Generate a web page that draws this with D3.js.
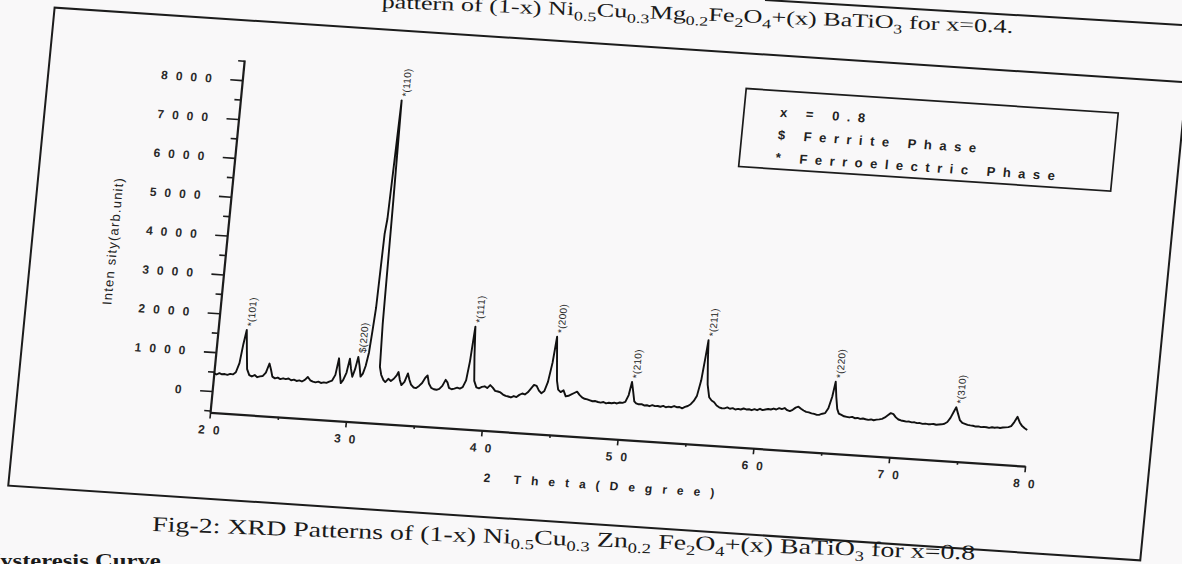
<!DOCTYPE html>
<html>
<head>
<meta charset="utf-8">
<script src="https://cdn.jsdelivr.net/npm/d3@7"></script>
<style>
  body { margin: 0; background: #f9f8f9; }
  svg { display: block; }
</style>
</head>
<body>
<svg width="1182" height="564"></svg>
<script>
// XRD pattern
var twoTheta = [
  20.0, 20.2, 20.4, 20.6, 20.8, 21.0, 21.2, 21.4, 21.6, 21.8, 21.95, 22.1, 22.25, 22.4, 22.6, 22.8,
  23.0, 23.2, 23.4, 23.6, 23.8, 24.0, 24.15, 24.3, 24.5, 24.7, 24.9, 25.1, 25.3, 25.5, 25.7, 25.9,
  26.1, 26.3, 26.5, 26.7, 26.9, 27.1, 27.3, 27.5, 27.7, 27.9, 28.1, 28.3, 28.5, 28.7, 28.9, 29.05,
  29.2, 29.35, 29.5, 29.7, 29.85, 30.0, 30.15, 30.3, 30.45, 30.6, 30.75, 30.9, 31.05, 31.2, 31.3,
  31.4, 31.5, 31.6, 31.7, 31.8, 31.9, 32.0, 32.1, 32.25, 32.45, 32.6, 32.8, 33.0, 33.2, 33.4, 33.5,
  33.65, 33.8, 34.0, 34.2, 34.35, 34.5, 34.7, 34.9, 35.1, 35.3, 35.5, 35.65, 35.8, 36.0, 36.2, 36.4,
  36.6, 36.8, 37.0, 37.15, 37.3, 37.5, 37.7, 37.9, 38.1, 38.3, 38.5, 38.65, 38.8, 38.95, 39.1, 39.3,
  39.5, 39.7, 39.9, 40.1, 40.3, 40.5, 40.7, 40.9, 41.1, 41.3, 41.5, 41.7, 41.9, 42.1, 42.3, 42.5,
  42.7, 42.9, 43.1, 43.3, 43.5, 43.7, 43.9, 44.1, 44.3, 44.5, 44.7, 44.85, 45.0, 45.15, 45.3, 45.5,
  45.7, 45.9, 46.1, 46.3, 46.5, 46.7, 46.9, 47.1, 47.3, 47.5, 47.7, 47.9, 48.1, 48.3, 48.5, 48.7,
  48.9, 49.1, 49.3, 49.5, 49.7, 49.9, 50.1, 50.3, 50.5, 50.65, 50.8, 50.95, 51.1, 51.3, 51.5, 51.7,
  51.9, 52.1, 52.3, 52.5, 52.7, 52.9, 53.1, 53.3, 53.5, 53.7, 53.9, 54.1, 54.3, 54.5, 54.7, 54.9,
  55.1, 55.3, 55.5, 55.7, 55.85, 55.95, 56.05, 56.2, 56.4, 56.6, 56.8, 57.0, 57.2, 57.4, 57.6, 57.8,
  58.0, 58.2, 58.4, 58.6, 58.8, 59.0, 59.2, 59.4, 59.6, 59.8, 60.0, 60.2, 60.4, 60.6, 60.8, 61.0,
  61.2, 61.4, 61.6, 61.8, 62.0, 62.2, 62.4, 62.6, 62.8, 63.0, 63.2, 63.4, 63.6, 63.8, 64.0, 64.2,
  64.4, 64.6, 64.8, 65.0, 65.2, 65.4, 65.55, 65.7, 65.85, 66.0, 66.2, 66.4, 66.6, 66.8, 67.0, 67.2,
  67.4, 67.6, 67.8, 68.0, 68.2, 68.4, 68.6, 68.8, 69.0, 69.2, 69.4, 69.6, 69.8, 70.0, 70.2, 70.4,
  70.6, 70.8, 71.0, 71.2, 71.4, 71.6, 71.8, 72.0, 72.2, 72.4, 72.6, 72.8, 73.0, 73.2, 73.4, 73.6,
  73.8, 74.0, 74.2, 74.4, 74.55, 74.7, 74.9, 75.1, 75.3, 75.5, 75.7, 75.9, 76.1, 76.3, 76.5, 76.7,
  76.9, 77.1, 77.3, 77.5, 77.7, 77.9, 78.1, 78.3, 78.5, 78.7, 78.9, 79.1, 79.3, 79.5, 79.7, 79.9
];
var intensity = [
  460, 430, 470, 445, 455, 440, 470, 460, 520, 760, 1250, 1620, 1100, 620, 470, 440,
  480, 430, 455, 470, 560, 800, 650, 470, 430, 455, 420, 445, 430, 450, 410, 430,
  400, 420, 395, 440, 520, 440, 410, 395, 420, 390, 410, 400, 440, 470, 620, 1050,
  700, 420, 500, 700, 1060, 800, 600, 800, 1120, 900, 620, 700, 900, 1250, 1800,
  2400, 4300, 4700, 6200, 7750, 5200, 2000, 900, 700, 570, 520, 610, 560, 620, 720, 800,
  600, 470, 560, 780, 620, 500, 430, 420, 480, 560, 700, 760, 560, 450, 420, 410,
  440, 520, 680, 620, 480, 450, 470, 500, 480, 520, 700, 1200, 2090, 1300, 700, 540,
  520, 560, 580, 540, 620, 560, 480, 470, 450, 400, 370, 360, 340, 380, 360, 420,
  460, 440, 500, 600, 700, 680, 560, 500, 560, 800, 1300, 1970, 1400, 850, 620, 560,
  610, 460, 480, 520, 560, 600, 520, 460, 430, 420, 400, 380, 390, 370, 360, 380,
  350, 370, 360, 380, 365, 395, 390, 420, 600, 940, 700, 450, 400, 380, 390, 360,
  370, 350, 380, 360, 370, 355, 380, 350, 370, 360, 395, 370, 380, 350, 390, 420,
  470, 560, 700, 1100, 1700, 2140, 1600, 1000, 680, 600, 560, 480, 440, 420, 420, 450,
  420, 440, 410, 430, 420, 450, 430, 440, 420, 450, 430, 470, 440, 460, 480, 470,
  500, 480, 520, 500, 530, 480, 460, 500, 560, 590, 540, 500, 470, 460, 440, 430,
  410, 420, 450, 470, 600, 900, 1290, 900, 600, 480, 450, 420, 410, 400, 420, 390,
  400, 380, 395, 380, 370, 385, 370, 390, 400, 420, 460, 520, 580, 560, 480, 430,
  410, 400, 390, 395, 380, 385, 370, 375, 360, 370, 360, 365, 375, 360, 370, 380,
  400, 450, 560, 720, 840, 700, 520, 450, 430, 410, 400, 395, 380, 390, 375, 385,
  380, 370, 390, 380, 395, 385, 400, 410, 420, 450, 560, 700, 560, 470, 420, 380
];
var peakAngles = [22.1, 30.45, 31.8, 38.8, 44.85, 50.65, 55.95, 65.55, 74.55];
var peakLabels = ["*(101)", "$(220)", "*(110)", "*(111)", "*(200)", "*(210)", "*(211)", "*(220)", "*(310)"];
var yMajor = [0, 1000, 2000, 3000, 4000, 5000, 6000, 7000, 8000];
var yMinor = [-500, 500, 1500, 2500, 3500, 4500, 5500, 6500, 7500, 8500];
var xMajor = [20, 30, 40, 50, 60, 70, 80];
var xMinor = [25, 35, 45, 55, 65, 75];
var legendLines = ["x = 0.8", "$ Ferrite Phase", "* Ferroelectric Phase"];

var ink = "#1c1c1c";
var svg = d3.select("svg");
svg.append("rect").attr("width", 1182).attr("height", 564).attr("fill", "#f9f8f9");

// the scanned page is skewed, so the whole figure sits in a sheared frame
var page = svg.append("g").attr("transform", "matrix(1,0.066,-0.097,1,0,0)");

page.append("rect")
  .attr("x", 55).attr("y", 4).attr("width", 1132).attr("height", 478)
  .attr("fill", "none").attr("stroke", ink).attr("stroke-width", 2);

var width = 815, height = 352.5;
var g = page.append("g").attr("transform", "translate(248.5,43.5)");

var x = d3.scaleLinear().domain([20, 80]).range([0, width]);
var y = d3.scaleLinear().domain([-550, 8520]).range([height, 0]);

// y axis
var axisY = g.append("g")
  .call(d3.axisLeft(y).tickValues(yMajor).tickSize(12).tickSizeOuter(0).tickFormat(d3.format("d")));
g.append("g")
  .call(d3.axisLeft(y).tickValues(yMinor).tickSize(6).tickFormat(""))
  .select(".domain").remove();

// x axis
var axisX = g.append("g").attr("transform", "translate(0," + height + ")")
  .call(d3.axisBottom(x).tickValues(xMajor).tickSize(6).tickSizeOuter(0));
g.append("g").attr("transform", "translate(0," + height + ")")
  .call(d3.axisBottom(x).tickValues(xMinor).tickSize(3).tickFormat(""))
  .select(".domain").remove();

g.selectAll(".domain").attr("stroke", ink).attr("stroke-width", 2.2);
g.selectAll(".tick line").attr("stroke", ink).attr("stroke-width", 1.6);

axisY.selectAll("text")
  .attr("x", -22.5)
  .attr("fill", "#2a2a2a")
  .attr("font-family", "Liberation Sans, Arial, sans-serif")
  .attr("font-size", 12)
  .attr("font-weight", "bold")
  .attr("letter-spacing", 8);

axisX.selectAll("text")
  .attr("y", 13)
  .attr("dx", 4)
  .attr("fill", "#2a2a2a")
  .attr("font-family", "Liberation Sans, Arial, sans-serif")
  .attr("font-size", 12)
  .attr("font-weight", "bold")
  .attr("letter-spacing", 8);

// pattern
var line = d3.line()
  .x(function (i) { return x(twoTheta[i]); })
  .y(function (i) { return y(intensity[i]); });

g.append("path")
  .datum(d3.range(twoTheta.length))
  .attr("d", line)
  .attr("fill", "none")
  .attr("stroke", "#111")
  .attr("stroke-width", 1.9)
  .attr("stroke-linejoin", "round");

// peak labels
peakAngles.forEach(function (a, k) {
  var idx = d3.leastIndex(twoTheta, function (t) { return Math.abs(t - a); });
  g.append("text")
    .attr("transform", "translate(" + (x(a) + 7) + "," + (y(intensity[idx]) - 4) + ") rotate(-90)")
    .attr("font-family", "Liberation Sans Narrow, Liberation Sans, Arial, sans-serif")
    .attr("font-size", 10)
    .attr("fill", "#2a2a2a")
    .attr("letter-spacing", 0.3)
    .text(peakLabels[k]);
});

// axis titles
page.append("text")
  .attr("transform", "translate(140,232) rotate(-90)")
  .attr("text-anchor", "middle")
  .attr("font-family", "Liberation Sans Narrow, Liberation Sans, Arial, sans-serif")
  .attr("font-size", 13)
  .attr("letter-spacing", 1.2)
  .attr("fill", "#222")
  .text("Inten sity(arb.unit)");

page.append("text")
  .attr("x", 642).attr("y", 447)
  .attr("dx", 5)
  .attr("text-anchor", "middle")
  .attr("font-family", "Liberation Sans, Arial, sans-serif")
  .attr("font-size", 12)
  .attr("font-weight", "bold")
  .attr("letter-spacing", 10)
  .attr("fill", "#222")
  .text("2 Theta(Degree)");

// legend
page.append("rect")
  .attr("x", 750).attr("y", 39).attr("width", 372).attr("height", 78)
  .attr("fill", "none").attr("stroke", ink).attr("stroke-width", 1.7);

page.selectAll(".legend-line")
  .data(legendLines)
  .enter().append("text")
  .attr("class", "legend-line")
  .attr("x", 786)
  .attr("y", function (d, i) { return 65 + i * 22.5; })
  .attr("font-family", "Liberation Sans, Arial, sans-serif")
  .attr("font-size", 13)
  .attr("font-weight", "bold")
  .attr("letter-spacing", 7.5)
  .attr("fill", "#222")
  .text(function (d) { return d; });

// page text around the figure
function formula(sel, parts, sub) {
  parts.forEach(function (p) {
    var t = sel.append("tspan").text(p[0]);
    if (p[1]) t.attr("font-size", sub).attr("dy", 5);
    if (p[2]) t.attr("dy", -5);
  });
}

var title = svg.append("text")
  .attr("transform", "translate(1013,33) rotate(2.3) scale(1.38,1)")
  .attr("text-anchor", "end")
  .attr("font-family", "Liberation Serif, Times New Roman, serif")
  .attr("font-size", 19)
  .attr("fill", "#1a1a1a");
formula(title, [
  ["pattern of (1-x) Ni"], ["0.5", 1], ["Cu", 0, 1], ["0.3", 1], ["Mg", 0, 1], ["0.2", 1],
  ["Fe", 0, 1], ["2", 1], ["O", 0, 1], ["4", 1], ["+(x) BaTiO", 0, 1], ["3", 1], [" for x=0.4.", 0, 1]
], 13);

var caption = svg.append("text")
  .attr("transform", "translate(152,531) rotate(2) scale(1.33,1)")
  .attr("font-family", "Liberation Serif, Times New Roman, serif")
  .attr("font-size", 21)
  .attr("fill", "#1a1a1a");
formula(caption, [
  ["Fig-2: XRD Patterns of (1-x) Ni"], ["0.5", 1], ["Cu", 0, 1], ["0.3", 1], [" Zn", 0, 1], ["0.2", 1],
  [" Fe", 0, 1], ["2", 1], ["O", 0, 1], ["4", 1], ["+(x) BaTiO", 0, 1], ["3", 1], [" for x=0.8", 0, 1]
], 14);

svg.append("line")
  .attr("x1", 765).attr("y1", 0).attr("x2", 1182).attr("y2", 25)
  .attr("stroke", ink).attr("stroke-width", 2);

svg.append("text")
  .attr("transform", "translate(-19,567) scale(1.3,1)")
  .attr("font-family", "Liberation Serif, Times New Roman, serif")
  .attr("font-size", 19)
  .attr("font-weight", "bold")
  .attr("fill", "#1a1a1a")
  .text("Hysteresis Curve");
</script>
</body>
</html>
